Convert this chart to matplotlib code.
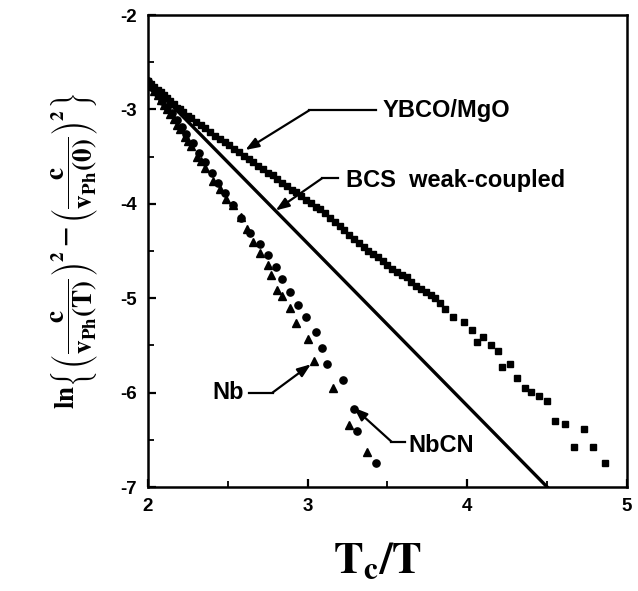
import matplotlib
matplotlib.use("Agg")
import matplotlib.pyplot as plt
from matplotlib.ticker import MultipleLocator

plt.rcParams['mathtext.fontset'] = 'stix'
plt.rcParams['mathtext.default'] = 'bf'
plt.rcParams['font.family'] = ['Liberation Sans', 'DejaVu Sans']

# YBCO/MgO (squares)
ybco_x = [2.00, 2.02, 2.04, 2.06, 2.08, 2.10, 2.12, 2.14, 2.16, 2.18, 2.20, 2.22,
          2.25, 2.27, 2.30, 2.33, 2.36, 2.39, 2.42, 2.45, 2.48, 2.51, 2.54, 2.57,
          2.60, 2.63, 2.66, 2.69, 2.72, 2.75, 2.78, 2.81, 2.84, 2.87, 2.90, 2.93,
          2.96, 2.99, 3.02, 3.05, 3.08, 3.11, 3.14, 3.17, 3.20, 3.23, 3.26, 3.29,
          3.32, 3.35, 3.38, 3.41, 3.44, 3.47, 3.50, 3.53, 3.56, 3.59, 3.62, 3.65,
          3.68, 3.71, 3.74, 3.77, 3.80, 3.83, 3.86, 3.91, 3.98, 4.03, 4.06, 4.10,
          4.15, 4.19, 4.22, 4.27, 4.31, 4.36, 4.40, 4.45, 4.50, 4.55, 4.61, 4.67,
          4.73, 4.79, 4.86]
ybco_y = [-2.70, -2.73, -2.76, -2.79, -2.82, -2.85, -2.88, -2.91, -2.94, -2.98, -3.00, -3.03,
          -3.07, -3.09, -3.13, -3.16, -3.20, -3.24, -3.28, -3.31, -3.35, -3.38, -3.42, -3.45,
          -3.49, -3.53, -3.56, -3.60, -3.63, -3.67, -3.70, -3.74, -3.78, -3.81, -3.85, -3.88,
          -3.92, -3.96, -3.99, -4.03, -4.06, -4.10, -4.15, -4.19, -4.24, -4.28, -4.33, -4.37,
          -4.42, -4.46, -4.50, -4.53, -4.56, -4.61, -4.65, -4.69, -4.72, -4.75, -4.78, -4.83,
          -4.87, -4.90, -4.93, -4.97, -5.00, -5.05, -5.11, -5.20, -5.25, -5.34, -5.46, -5.41,
          -5.50, -5.56, -5.73, -5.70, -5.85, -5.95, -5.99, -6.04, -6.09, -6.30, -6.33, -6.58,
          -6.39, -6.58, -6.75]

# Nb (triangles)
nb_x = [2.00, 2.02, 2.04, 2.06, 2.08, 2.10, 2.12, 2.14, 2.16, 2.18, 2.20, 2.23, 2.25,
        2.27, 2.31, 2.33, 2.36, 2.41, 2.45, 2.49, 2.53, 2.58, 2.62, 2.66, 2.70, 2.75,
        2.77, 2.81, 2.84, 2.89, 2.93, 3.00, 3.04, 3.16, 3.26, 3.37]
nb_y = [-2.70, -2.75, -2.80, -2.85, -2.90, -2.95, -3.00, -3.05, -3.10, -3.16, -3.21, -3.29, -3.33,
        -3.39, -3.50, -3.55, -3.62, -3.76, -3.84, -3.95, -4.01, -4.14, -4.27, -4.40, -4.52, -4.65,
        -4.75, -4.91, -4.98, -5.10, -5.26, -5.43, -5.67, -5.95, -6.34, -6.63]

# NbCN (circles)
nbcn_x = [2.00, 2.03, 2.06, 2.09, 2.12, 2.15, 2.18, 2.21, 2.24, 2.28, 2.32, 2.36, 2.40,
          2.44, 2.48, 2.53, 2.58, 2.64, 2.70, 2.75, 2.80, 2.84, 2.89, 2.94, 2.99, 3.05,
          3.09, 3.12, 3.22, 3.29, 3.31, 3.43]
nbcn_y = [-2.70, -2.77, -2.84, -2.91, -2.97, -3.04, -3.11, -3.19, -3.26, -3.36, -3.46, -3.56, -3.67,
          -3.78, -3.89, -4.01, -4.15, -4.31, -4.43, -4.54, -4.67, -4.80, -4.93, -5.07, -5.20, -5.36,
          -5.53, -5.70, -5.87, -6.17, -6.41, -6.75]

# BCS weak-coupled line
bcs_x = [2.0, 4.5]
bcs_y = [-2.70, -7.0]

xticks = [2, 3, 4, 5]
yticks = [-2, -3, -4, -5, -6, -7]

W, H = 638, 591
fig = plt.figure(figsize=(W / 100, H / 100), dpi=100)
ax = fig.add_axes([148 / W, 1 - 487 / H, (627 - 148) / W, (487 - 15) / H])

ax.plot(bcs_x, bcs_y, color='black', lw=2.4, zorder=2)
ax.plot(ybco_x, ybco_y, ls='none', marker='s', ms=5.0, color='black', zorder=3)
ax.plot(nbcn_x, nbcn_y, ls='none', marker='o', ms=5.2, color='black', zorder=3)
ax.plot(nb_x, nb_y, ls='none', marker='^', ms=6.4, color='black', zorder=3)

ax.set_xlim(2, 5)
ax.set_ylim(-7, -2)
ax.set_xticks(xticks)
ax.set_yticks(yticks)
ax.set_xticklabels([str(t) for t in xticks])
ax.set_yticklabels([str(t) for t in yticks])
ax.xaxis.set_minor_locator(MultipleLocator(0.5))
ax.yaxis.set_minor_locator(MultipleLocator(0.5))
ax.tick_params(which='major', direction='in', length=6, width=1.6, labelsize=13.5, pad=8)
ax.tick_params(which='minor', direction='in', length=4, width=1.3)
for lbl in ax.get_xticklabels() + ax.get_yticklabels():
    lbl.set_fontweight('bold')
for s in ax.spines.values():
    s.set_linewidth(1.8)

afont = dict(fontsize=17, fontweight='bold', color='black')
aprops = dict(arrowstyle='-|>,head_length=0.8,head_width=0.3', color='black', lw=1.6,
              shrinkA=0, shrinkB=0)

# YBCO/MgO annotation
ax.plot([3.01, 3.43], [-3.01, -3.01], color='black', lw=1.6)
ax.annotate('', xy=(2.61, -3.43), xytext=(3.01, -3.01), arrowprops=aprops)
ax.text(3.47, -3.01, 'YBCO/MgO', ha='left', va='center', **afont)

# BCS annotation
ax.plot([3.09, 3.19], [-3.73, -3.73], color='black', lw=1.6)
ax.annotate('', xy=(2.80, -4.07), xytext=(3.09, -3.73), arrowprops=aprops)
ax.text(3.24, -3.75, 'BCS  weak-coupled', ha='left', va='center', **afont)

# Nb annotation
ax.plot([2.63, 2.78], [-6.0, -6.0], color='black', lw=1.6)
ax.annotate('', xy=(3.02, -5.70), xytext=(2.78, -6.0), arrowprops=aprops)
ax.text(2.60, -6.0, 'Nb', ha='right', va='center', **afont)

# NbCN annotation
ax.plot([3.525, 3.61], [-6.52, -6.52], color='black', lw=1.6)
ax.annotate('', xy=(3.29, -6.16), xytext=(3.525, -6.52), arrowprops=aprops)
ax.text(3.63, -6.56, 'NbCN', ha='left', va='center', **afont)

ax.set_xlabel(r'$\mathbf{T_c/T}$', fontsize=32)
ax.xaxis.set_label_coords(0.479, -0.115)
ax.set_ylabel(r'$\mathbf{ln}\left\{\left(\dfrac{c}{v_{Ph}(T)}\right)^2 - \left(\dfrac{c}{v_{Ph}(0)}\right)^2\right\}$',
              fontsize=19.5)
ax.yaxis.set_label_coords(-0.10, 0.50)

fig.savefig('out.png', dpi=100)
